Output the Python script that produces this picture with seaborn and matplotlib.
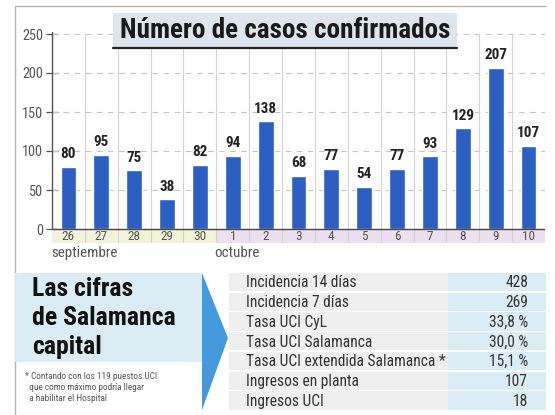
import matplotlib
matplotlib.use("Agg")
import matplotlib.pyplot as plt
import matplotlib.font_manager as fm
import seaborn as sns
import pandas as pd
from matplotlib.patches import Rectangle, Polygon
from matplotlib.lines import Line2D

# ---------------- data ----------------
days = ["26", "27", "28", "29", "30", "1", "2", "3", "4", "5", "6", "7", "8", "9", "10"]
months = ["sep"] * 5 + ["oct"] * 10
cases = [80, 95, 75, 38, 82, 94, 138, 68, 77, 54, 77, 93, 129, 207, 107]
yticks = [0, 50, 100, 150, 200, 250]
title = "Número de casos confirmados"

table_labels = ["Incidencia 14 días", "Incidencia 7 días", "Tasa UCI CyL",
                "Tasa UCI Salamanca", "Tasa UCI extendida Salamanca *",
                "Ingresos en planta", "Ingresos UCI"]
table_values = ["428", "269", "33,8 %", "30,0 %", "15,1 %", "107", "18"]
panel_title = ["Las cifras", "de Salamanca", "capital"]
footnote = ["* Contando con los 119 puestos UCI", "  que como máximo podría llegar",
            "  a habilitar el Hospital"]

# ---------------- fonts ----------------
sns.set_theme(style="white")
names = {f.name for f in fm.fontManager.ttflist}
narrow = [n for n in ["Liberation Sans Narrow", "Roboto Condensed", "Open Sans Condensed",
                      "Noto Sans Condensed"] if n in names]
if narrow:
    plt.rcParams["font.family"] = [narrow[0], "DejaVu Sans"]
else:
    plt.rcParams["font.family"] = ["DejaVu Sans"]
    if any(f.name == "DejaVu Sans" and f.stretch == "condensed" for f in fm.fontManager.ttflist):
        plt.rcParams["font.stretch"] = "condensed"

W, H = 555, 415
fig = plt.figure(figsize=(W / 100, H / 100), dpi=100)
fig.patch.set_facecolor("white")
renderer = fig.canvas.get_renderer()

def fx(x):
    return x / W

def fy(y):
    return 1 - y / H

def frect(x0, y0, x1, y1, **kw):
    r = Rectangle((fx(x0), fy(y1)), fx(x1) - fx(x0), fy(y0) - fy(y1),
                  transform=fig.transFigure, **kw)
    fig.add_artist(r)
    return r

def fline(xs, ys, **kw):
    l = Line2D([fx(x) for x in xs], [fy(y) for y in ys], transform=fig.transFigure, **kw)
    fig.add_artist(l)
    return l

def fit_size(sample, target_px, weight="normal"):
    t = fig.text(0, 0, sample, fontsize=10, fontweight=weight)
    w = t.get_window_extent(renderer).width
    t.remove()
    return 10 * target_px / w

fs_title = fit_size(title, 330, "bold")
fs_val = fit_size("129", 23, "bold")
fs_tick = fit_size("250", 21)
fs_day = 9.5
fs_month = fit_size("septiembre", 66)
fs_panel = fit_size("de Salamanca", 143, "bold")
fs_foot = min(fit_size(footnote[0], 165), 6.7)
fs_tab = fit_size("Tasa UCI extendida Salamanca *", 199)

# outer frame
fline([15, 15, 546], [415, 6, 6], color="#b5b5b5", lw=1.0, zorder=1)

# ---------------- bar chart ----------------
ax_left, ax_right, ax_top, ax_bot = 52, 545, 32, 243
ax = fig.add_axes([fx(ax_left), fy(ax_bot), fx(ax_right) - fx(ax_left), fy(ax_top) - fy(ax_bot)])
ppu = 0.78  # px per unit
ymin = -(ax_bot - 229) / ppu
ymax = (229 - ax_top) / ppu

df = pd.DataFrame({"day": days, "cases": cases})
sns.barplot(data=df, x="day", y="cases", order=days, color="#2c5fc2",
            saturation=1, width=0.48, ax=ax, zorder=3)
ax.set_xlim(-0.5, len(days) - 0.5)
ax.set_ylim(ymin, ymax)
ax.set_xlabel("")
ax.set_ylabel("")
for s in ax.spines.values():
    s.set_visible(False)
ax.set_facecolor("none")

# band with day labels
for i, (d, m) in enumerate(zip(days, months)):
    ax.add_patch(Rectangle((i - 0.5, ymin), 1, -ymin,
                           facecolor="#f3f3da" if m == "sep" else "#ece0ef",
                           edgecolor="none", zorder=1))
    ax.text(i, ymin / 2, d, ha="center", va="center", fontsize=fs_day,
            color="#555555", zorder=4)
# vertical separators
for i in range(len(days)):
    ax.plot([i + 0.5, i + 0.5], [ymin, ymax - 3], color="#d2d2d2", lw=0.8, zorder=2)
# dashed grid
for t in yticks[1:]:
    ax.axhline(t, color="#c4c4c4", lw=0.8, dashes=(5, 5), zorder=1.5)
# baseline & y axis
ax.axhline(0, color="#444444", lw=1.0, zorder=4)
ax.plot([-0.5, -0.5], [0, ymax], color="#555555", lw=1.0, zorder=4, clip_on=False)

ax.set_yticks(yticks)
ax.set_yticklabels([str(t) for t in yticks])
ax.tick_params(axis="y", direction="inout", length=9, width=0.9, color="#555555",
               labelsize=fs_tick, labelcolor="#555555", pad=2, left=True)
ax.tick_params(axis="x", bottom=False, labelbottom=False)

for c in ax.containers:
    ax.bar_label(c, labels=[str(v) for v in cases], padding=4, fontsize=fs_val,
                 fontweight="bold", color="#222222")

# month labels
fig.text(fx(85), fy(253), "septiembre", ha="center", va="center", fontsize=fs_month, color="#555555")
fig.text(fx(237), fy(253), "octubre", ha="center", va="center", fontsize=fs_month, color="#555555")

# title box
frect(113, 13, 457, 48, facecolor="#dfe5ec", edgecolor="none", zorder=5)
fline([113, 457], [48, 48], color="#222222", lw=1.6, zorder=6)
fig.text(fx(285), fy(30.5), title, ha="center", va="center", fontsize=fs_title,
         fontweight="bold", color="#1a1a1a", zorder=7)

# ---------------- bottom panel ----------------
frect(15, 273, 202, 362, facecolor="#dcecf5", edgecolor="none", zorder=1)
for k, line in enumerate(panel_title):
    fig.text(fx(32), fy(289 + k * 29), line, ha="left", va="center", fontsize=fs_panel,
             fontweight="bold", color="#111111")
for k, line in enumerate(footnote):
    fig.text(fx(25), fy(376 + k * 11), line, ha="left", va="center", fontsize=fs_foot,
             color="#555555")

# arrow
fig.add_artist(Polygon([(fx(202), fy(273)), (fx(228), fy(338)), (fx(202), fy(410))],
                       closed=True, transform=fig.transFigure, facecolor="#4499dd",
                       edgecolor="none", zorder=2))

# table
row_h = (411 - 273) / len(table_labels)
for k, (lab, val) in enumerate(zip(table_labels, table_values)):
    y0 = 273 + k * row_h
    frect(229, y0, 448, y0 + row_h - 1.5, facecolor="#efefef", edgecolor="none", zorder=1)
    frect(448, y0, 546, y0 + row_h - 1.5, facecolor="#dcecf4", edgecolor="none", zorder=1)
    fig.text(fx(246), fy(y0 + row_h / 2), lab, ha="left", va="center", fontsize=fs_tab,
             color="#333333")
    fig.text(fx(528), fy(y0 + row_h / 2), val, ha="right", va="center", fontsize=fs_tab,
             color="#333333")

fig.savefig("out.png", dpi=100, facecolor="white")
